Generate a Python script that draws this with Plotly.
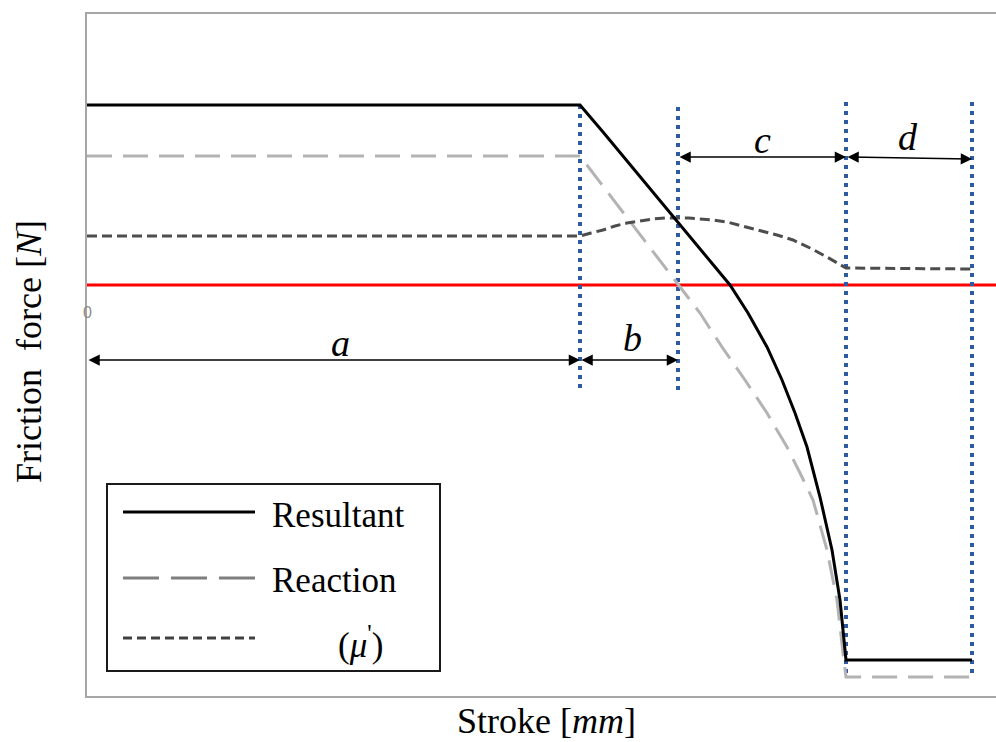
import plotly.graph_objects as go

# ---------------- data (stroke in arbitrary units, force relative to zero line) ----------------
stroke_resultant = [0, 493, 516, 591, 643, 661, 680, 695, 708, 720, 733, 745, 753, 759, 885]
force_resultant = [180, 180, 153, 63, 0, -28, -62, -95, -128, -162, -212, -265, -315, -375, -375]

stroke_reaction = [0, 493, 590, 613, 635, 658, 680, 700, 715, 726, 740, 750, 756, 759, 885]
force_reaction = [129, 129, 2, -28, -62, -95, -128, -162, -192, -215, -265, -315, -368, -392, -392]

stroke_mu = [0, 493, 504, 516, 528, 540, 553, 566, 578, 590, 602, 613, 626, 640, 656, 673, 690, 706, 723, 740, 759, 885]
force_mu = [49, 49, 52, 55, 59, 62, 64, 66, 67, 67, 67, 66, 65, 63, 59, 55, 50, 45, 37, 28, 17, 16]

zero_line_x = [0, 909]
zero_line_y = [0, 0]

boundary_x = [493, 591, 759, 885]
boundary_top = [180, 178, 183, 183]
boundary_bottom = [-105, -105, -391, -391]

segment_labels = ["a", "b", "c", "d"]
segment_start = [0, 493, 591, 759]
segment_end = [493, 591, 759, 885]
segment_arrow_y_start = [-75, -75, 128, 128]
segment_arrow_y_end = [-75, -75, 128, 126]
segment_label_x = [253, 545, 675, 821]
segment_label_y = [-58, -53, 145, 148]

legend_names = ["Resultant", "Reaction", "(<i>μ</i><sup>'</sup>)"]

X_RANGE = [0, 909]
Y_RANGE = [-411, 271]

SERIF = "Liberation Serif, Times New Roman, serif"

# ---------------- figure ----------------
fig = go.Figure()

fig.add_trace(go.Scatter(x=zero_line_x, y=zero_line_y, mode="lines",
                         line=dict(color="#ff0000", width=3), hoverinfo="skip"))

for bx, bt, bb in zip(boundary_x, boundary_top, boundary_bottom):
    fig.add_trace(go.Scatter(x=[bx, bx], y=[bt, bb], mode="lines",
                             line=dict(color="#2e5aa3", width=4, dash="4px,5px"),
                             hoverinfo="skip"))

fig.add_trace(go.Scatter(x=stroke_reaction, y=force_reaction, mode="lines",
                         line=dict(color="#b3b3b3", width=3, dash="25px,11px"),
                         name="Reaction"))
fig.add_trace(go.Scatter(x=stroke_mu, y=force_mu, mode="lines",
                         line=dict(color="#4d4d4d", width=3, dash="10px,5px"),
                         name="mu"))
fig.add_trace(go.Scatter(x=stroke_resultant, y=force_resultant, mode="lines",
                         line=dict(color="#000000", width=3),
                         name="Resultant"))

annotations = []
# dimension arrows
for s, e, ys, ye, lab, lx, ly in zip(segment_start, segment_end, segment_arrow_y_start,
                                     segment_arrow_y_end, segment_labels,
                                     segment_label_x, segment_label_y):
    annotations.append(dict(x=e, y=ye, ax=s, ay=ys, xref="x", yref="y", axref="x", ayref="y",
                            text="", showarrow=True, arrowside="end+start",
                            arrowhead=2, startarrowhead=2, arrowsize=1.5, startarrowsize=1.5,
                            arrowwidth=1.5, arrowcolor="#000000"))
    annotations.append(dict(x=lx, y=ly, xref="x", yref="y", text="<i>" + lab + "</i>",
                            showarrow=False, font=dict(family=SERIF, size=38, color="#000000"),
                            xanchor="center", yanchor="middle"))

# "0" label on axis
annotations.append(dict(x=0, y=-27, xref="x", yref="y", text="0", showarrow=False,
                        font=dict(family="Liberation Sans, Arial, sans-serif", size=16, color="#8c8c8c"),
                        xanchor="center", yanchor="middle"))

# pixel -> paper helpers for layout decorations
L, T, W, H = 87, 14, 909, 682


def px_x(px):
    return (px - L) / W


def px_y(py):
    return (T + H - py) / H


# axis titles
annotations.append(dict(x=px_x(546), y=px_y(721), xref="paper", yref="paper",
                        text="Stroke [<i>mm</i>]", showarrow=False,
                        font=dict(family=SERIF, size=36, color="#000000"),
                        xanchor="center", yanchor="middle"))
annotations.append(dict(x=px_x(29), y=px_y(352), xref="paper", yref="paper",
                        text="Friction  force [<i>N</i>]", showarrow=False, textangle=-90,
                        font=dict(family=SERIF, size=36, color="#000000"),
                        xanchor="center", yanchor="middle"))

# legend (drawn manually to match long line samples)
shapes = []
shapes.append(dict(type="rect", xref="paper", yref="paper",
                   x0=px_x(107), x1=px_x(440), y0=px_y(671), y1=px_y(484),
                   line=dict(color="#1a1a1a", width=2), fillcolor="white", layer="above"))
legend_rows = [515, 580, 642]
legend_line_y = [512, 578, 638]
legend_styles = [dict(color="#000000", width=3),
                 dict(color="#7f7f7f", width=3, dash="36px,12px"),
                 dict(color="#404040", width=3, dash="9px,5px")]
legend_text_x = [270, 270, 336]
for name, ty, ly, st, tx in zip(legend_names, legend_rows, legend_line_y, legend_styles, legend_text_x):
    shapes.append(dict(type="line", xref="paper", yref="paper",
                       x0=px_x(123), x1=px_x(255), y0=px_y(ly), y1=px_y(ly),
                       line=st, layer="above"))
    annotations.append(dict(x=px_x(tx), y=px_y(ty), xref="paper", yref="paper", text=name,
                            showarrow=False, font=dict(family=SERIF, size=35, color="#000000"),
                            xanchor="left", yanchor="middle"))

fig.update_layout(
    width=996, height=742,
    margin=dict(l=L, r=0, t=T, b=742 - T - H),
    plot_bgcolor="white", paper_bgcolor="white",
    showlegend=False,
    annotations=annotations,
    shapes=shapes,
    xaxis=dict(range=X_RANGE, showgrid=False, zeroline=False, showticklabels=False, ticks="",
               showline=True, linecolor="#a6a6a6", linewidth=2, mirror=True),
    yaxis=dict(range=Y_RANGE, showgrid=False, zeroline=False, showticklabels=False, ticks="",
               showline=True, linecolor="#a6a6a6", linewidth=2),
)

fig.write_html("out.html")
